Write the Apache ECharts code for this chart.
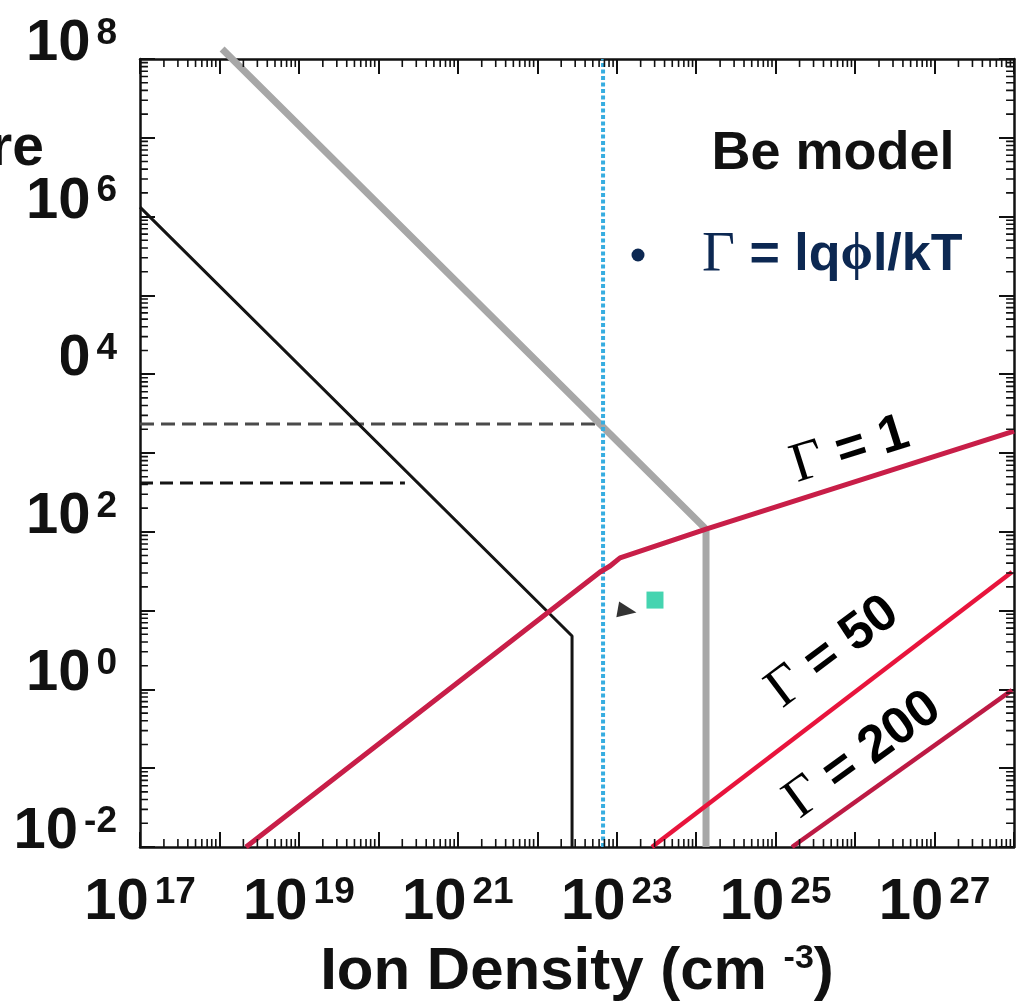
<!DOCTYPE html>
<html>
<head>
<meta charset="utf-8">
<script src="https://cdn.jsdelivr.net/npm/echarts@6/dist/echarts.min.js"></script>
<style>
  html, body { margin: 0; padding: 0; background: #ffffff; }
  #chart { width: 1025px; height: 1006px; }
</style>
</head>
<body>
<div id="chart"></div>
<script>
// Ion density (cm^-3) against temperature, both on decade scales.
const xDecades = [17, 28];
const yDecades = [-2, 8];
const xLabelExps = [17, 19, 21, 23, 25, 27];
const yLabelExps = [-2, 0, 2, 4, 6, 8];

// Curves as [density, temperature] pairs
const grayBoundary  = [[1.08e18, 1.34e8], [1.33e24, 108], [1.33e24, 0.01]];
const blackBoundary = [[1e17, 1.32e6], [2.74e22, 4.76], [2.74e22, 0.01]];
const dashUpper     = [[1e17, 2330], [6.73e22, 2330]];
const dashLower     = [[1e17, 416], [2.16e20, 416]];
const cyanLine      = [[6.73e22, 0.01], [6.73e22, 1e8]];
const gamma1   = [[2.16e18, 0.01], [6.17e22, 30.9], [8.24e22, 36.8], [1.10e23, 46.6], [1.33e24, 108], [1e28, 1901]];
const gamma50  = [[2.78e23, 0.01], [9.44e27, 30.9]];
const gamma200 = [[1.61e25, 0.01], [9.44e27, 0.98]];
const squareMark   = [[3.03e23, 13.6]];
const triangleMark = [[1.35e23, 9.9]];

// Both axes run in decades (log10 of the value).
const lg = Math.log10;
const toLog = pts => pts.map(p => [lg(p[0]), lg(p[1])]);

// the 2..9 sub-ticks inside each decade
function subTicks(lo, hi) {
  const out = [];
  for (let d = lo; d < hi; d++) {
    for (let k = 2; k <= 9; k++) out.push(d + lg(k));
  }
  return out;
}

const SANS = "'Liberation Sans', Arial, Helvetica, sans-serif";
const SERIF = "'Liberation Serif', 'Times New Roman', serif";
const INK = '#111111';
const NAVY = '#0c2852';

const tickRich = {
  b: { fontFamily: SANS, fontWeight: 'bold', fontSize: 58, lineHeight: 58, color: INK, verticalAlign: 'bottom' },
  s: { fontFamily: SANS, fontWeight: 'bold', fontSize: 37, lineHeight: 17, color: INK, verticalAlign: 'top',
       padding: [0, 0, 0, 6] }
};
function powerLabel(exps) {
  return v => {
    const e = Math.round(v);
    return exps.indexOf(e) >= 0 ? '{b|10}{s|' + e + '}' : '';
  };
}

function makeAxis(kind, position, range, labels) {
  const ax = {
    type: 'value', position: position, min: range[0], max: range[1], interval: 1,
    splitLine: { show: false },
    axisLine: { show: true, onZero: false, lineStyle: { color: INK, width: 2.5 } },
    axisTick: { show: true, inside: true, length: 15, lineStyle: { color: INK, width: 2 } },
    axisLabel: { show: false }
  };
  if (labels) {
    ax.axisLabel = {
      show: true, formatter: powerLabel(labels), rich: tickRich,
      margin: kind === 'y' ? 23 : 27, hideOverlap: false
    };
    if (kind === 'y') ax.axisLabel.padding = [0, 0, 30, 0];
  }
  return ax;
}

const xAxes = [
  makeAxis('x', 'bottom', xDecades, xLabelExps),
  makeAxis('x', 'top', xDecades, null)
];
xAxes[0].name = '{t|Ion Density (cm }{s|-3}{t|)}';
xAxes[0].nameLocation = 'middle';
xAxes[0].nameGap = 95;
xAxes[0].nameTextStyle = {
  rich: {
    t: { fontFamily: SANS, fontWeight: 'bold', fontSize: 60, lineHeight: 60, color: INK, verticalAlign: 'bottom' },
    s: { fontFamily: SANS, fontWeight: 'bold', fontSize: 34, lineHeight: 14, color: INK, verticalAlign: 'top' }
  }
};

const yAxes = [
  makeAxis('y', 'left', yDecades, yLabelExps),
  makeAxis('y', 'right', yDecades, null)
];

// short inward sub-decade ticks along one frame edge, as broken line segments
const SUB_LEN = 0.1; // tick length, in decades
function subTickSeries(name, values, alongX, edge, inward) {
  const data = [];
  values.forEach(v => {
    if (alongX) { data.push([v, edge], [v, edge + inward * SUB_LEN]); }
    else { data.push([edge, v], [edge + inward * SUB_LEN, v]); }
    data.push(['-', '-']);
  });
  return {
    name: name, type: 'line', data: data, symbol: 'none', connectNulls: false,
    clip: false, silent: true, animation: false, z: 4,
    lineStyle: { color: INK, width: 1.6 }
  };
}

function lineSeries(name, pts, color, width, type, extra) {
  return Object.assign({
    name: name, type: 'line', data: toLog(pts), symbol: 'none', animation: false,
    lineStyle: { color: color, width: width, type: type || 'solid' },
    z: 3
  }, extra || {});
}

const xSub = subTicks(xDecades[0], xDecades[1]);
const ySub = subTicks(yDecades[0], yDecades[1]);

const series = [
  subTickSeries('bottom sub-ticks', xSub, true, yDecades[0], 1),
  subTickSeries('top sub-ticks', xSub, true, yDecades[1], -1),
  subTickSeries('left sub-ticks', ySub, false, xDecades[0], 1),
  subTickSeries('right sub-ticks', ySub, false, xDecades[1], -1),
  lineSeries('upper level', dashUpper, '#4a4a4a', 3, [14, 7]),
  lineSeries('lower level', dashLower, '#151515', 3, [13, 7]),
  lineSeries('gray boundary', grayBoundary, '#a7a7a7', 7, 'solid', { clip: false }),
  lineSeries('black boundary', blackBoundary, '#141414', 3),
  lineSeries('solid density', cyanLine, '#37ade0', 4, [4, 2.5]),
  lineSeries('Γ = 1', gamma1, '#c81e48', 5),
  lineSeries('Γ = 50', gamma50, '#e8143c', 4.5),
  lineSeries('Γ = 200', gamma200, '#bd1a44', 4.5),
  {
    name: 'square', type: 'scatter', data: toLog(squareMark), symbol: 'rect', symbolSize: 17,
    itemStyle: { color: '#16c99c' }, animation: false, z: 5
  },
  {
    name: 'pointer', type: 'scatter', data: toLog(triangleMark), symbol: 'triangle', symbolSize: [16, 19],
    symbolRotate: -100, itemStyle: { color: '#000000' }, animation: false, z: 5
  }
];

const gammaRich = {
  g: { fontFamily: SERIF, fontSize: 56, color: INK },
  t: { fontFamily: SANS, fontWeight: 'bold', fontSize: 52, color: INK }
};
const deg = Math.PI / 180;

const graphic = [
  // tail of the temperature caption running in from the left
  { type: 'text', x: 44, y: 149, z: 10,
    style: { text: 'Temperature', align: 'right', verticalAlign: 'middle',
      font: 'bold 57px ' + SANS, fill: INK } },
  // box over the left side of the axis labels
  { type: 'rect', shape: { x: 0, y: 322, width: 61, height: 72 }, z: 20,
    style: { fill: '#ffffff' } },
  { type: 'text', x: 833, y: 154, z: 10,
    style: { text: 'Be model', align: 'center', verticalAlign: 'middle',
      font: 'bold 54px ' + SANS, fill: INK } },
  { type: 'circle', shape: { cx: 638, cy: 255, r: 6.5 }, z: 10, style: { fill: NAVY } },
  { type: 'text', x: 702, y: 256, z: 10,
    style: {
      text: '{g|Γ}{t| = lq}{p|ϕ}{t|l/kT}', align: 'left', verticalAlign: 'middle',
      rich: {
        g: { fontFamily: SERIF, fontSize: 57, fill: NAVY, color: NAVY },
        t: { fontFamily: SANS, fontWeight: 'bold', fontSize: 52, fill: NAVY, color: NAVY },
        p: { fontFamily: SERIF, fontWeight: 'bold', fontSize: 52, fill: NAVY, color: NAVY }
      }
    } },
  { type: 'text', x: 850, y: 450, rotation: 17.5 * deg, z: 10,
    style: { text: '{g|Γ}{t| = 1}', align: 'center', verticalAlign: 'middle', rich: gammaRich } },
  { type: 'text', x: 833, y: 652, rotation: 37 * deg, z: 10,
    style: { text: '{g|Γ}{t| = 50}', align: 'center', verticalAlign: 'middle', rich: gammaRich } },
  { type: 'text', x: 863, y: 755, rotation: 36 * deg, z: 10,
    style: { text: '{g|Γ}{t| = 200}', align: 'center', verticalAlign: 'middle', rich: gammaRich } }
];

const chart = echarts.init(document.getElementById('chart'), null, { renderer: 'canvas' });
chart.setOption({
  backgroundColor: '#ffffff',
  animation: false,
  grid: { left: 140, top: 59, width: 874, height: 788, containLabel: false, outerBoundsMode: 'none' },
  xAxis: xAxes,
  yAxis: yAxes,
  series: series.map(s => Object.assign(s, { xAxisIndex: 0, yAxisIndex: 0 })),
  graphic: graphic
});
</script>
</body>
</html>
